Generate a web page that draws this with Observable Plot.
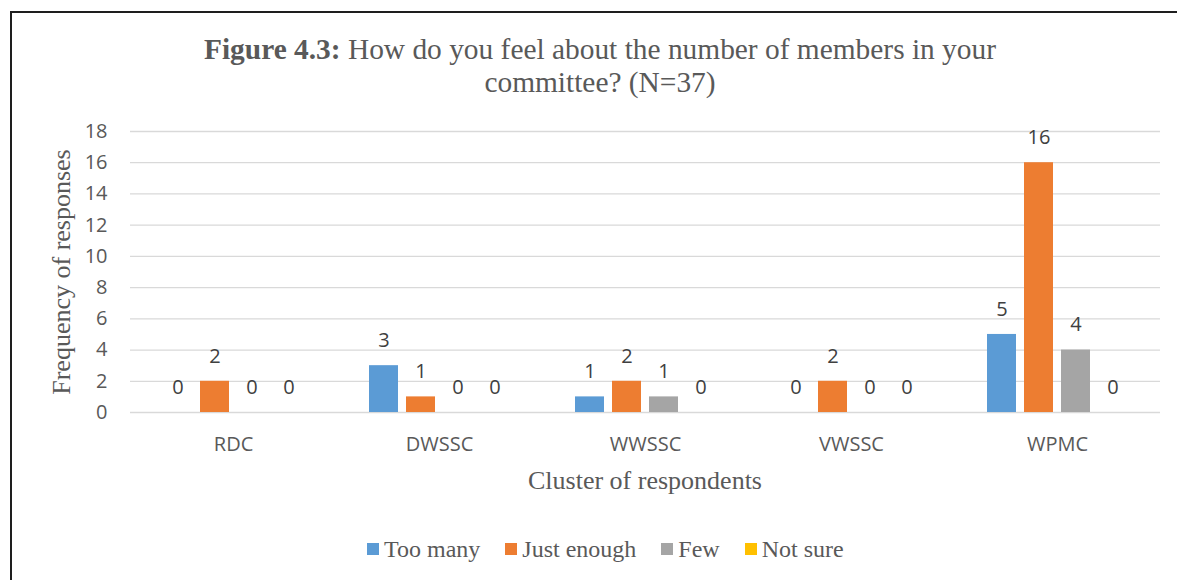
<!DOCTYPE html>
<html>
<head>
<meta charset="utf-8">
<script src="https://cdn.jsdelivr.net/npm/d3@7"></script>
<script src="https://cdn.jsdelivr.net/npm/@observablehq/plot@0.6"></script>
<style>
  html, body { margin: 0; padding: 0; background: #fff; overflow: hidden; }
  #page { position: relative; width: 1177px; height: 580px; overflow: hidden; }
  .serif { font-family: "Liberation Serif", "Times New Roman", serif; color: #595959; }
  #border { position: absolute; left: 10px; top: 11px; width: 1200px; height: 600px;
            border-top: 2px solid #1e1e1e; border-left: 2px solid #1e1e1e; }
  #title { position: absolute; left: 100px; width: 1000px; top: 33px; text-align: center;
           font-size: 29.4px; line-height: 33px; }
  #chart { position: absolute; left: 0; top: 100px; }
  #ylabel { position: absolute; left: 62px; top: 272px; white-space: nowrap; font-size: 26px; line-height: 26px;
            transform: translate(-50%, -50%) rotate(-90deg); }
  #xlabel { position: absolute; left: 445px; width: 400px; top: 468px; text-align: center;
            font-size: 26px; line-height: 26px; }
  #legend { position: absolute; left: 367px; top: 537px; display: flex; align-items: center;
            font-size: 24px; line-height: 24px; white-space: nowrap; }
  .item { display: flex; align-items: center; margin-right: 25px; }
  .sw { width: 12px; height: 12px; margin-right: 5px; }
</style>
</head>
<body>
<div id="page">
  <div id="border"></div>
  <div id="title" class="serif"><b>Figure 4.3:</b> How do you feel about the number of members in your<br>committee? (N=37)</div>
  <div id="chart"></div>
  <div id="ylabel" class="serif">Frequency of responses</div>
  <div id="xlabel" class="serif">Cluster of respondents</div>
  <div id="legend" class="serif"></div>
</div>
<script>
const categories = ["RDC", "DWSSC", "WWSSC", "VWSSC", "WPMC"];
const series = ["Too many", "Just enough", "Few", "Not sure"];
const tooMany = [0, 3, 1, 0, 5];
const justEnough = [2, 1, 2, 2, 16];
const few = [0, 0, 1, 0, 4];
const notSure = [0, 0, 0, 0, 0];
const colors = ["#5B9BD5", "#ED7D31", "#A5A5A5", "#FFC000"];
const yTicks = [0, 2, 4, 6, 8, 10, 12, 14, 16, 18];

const seriesValues = [tooMany, justEnough, few, notSure];
const data = categories.flatMap((c, i) =>
  series.map((s, j) => ({cat: c, series: s, value: seriesValues[j][i]})));

const chart = Plot.plot({
  width: 1177,
  height: 420,
  marginLeft: 130,
  marginRight: 17,
  marginTop: 31,
  marginBottom: 108,
  style: {fontFamily: "'Open Sans', sans-serif", fontSize: "20px", color: "#595959", background: "transparent"},
  fx: {domain: categories, padding: 0, label: null, axis: "bottom", tickSize: 0, tickPadding: 24},
  x: {domain: series, paddingInner: 0.227, paddingOuter: 0.86, axis: null},
  y: {domain: [0, 18], ticks: yTicks, tickSize: 0, tickPadding: 23, label: null},
  color: {domain: series, range: colors},
  marks: [
    Plot.ruleY(yTicks, {stroke: "#D9D9D9", strokeWidth: 1.3}),
    Plot.barY(data, {fx: "cat", x: "series", y: "value", fill: "series"}),
    Plot.text(data, {fx: "cat", x: "series", y: "value", text: d => String(d.value), dy: -25, fill: "#404040", fontSize: 20})
  ]
});
document.getElementById("chart").appendChild(chart);

const legend = document.getElementById("legend");
series.forEach((s, i) => {
  const item = document.createElement("div");
  item.className = "item";
  const sw = document.createElement("span");
  sw.className = "sw";
  sw.style.background = colors[i];
  const lab = document.createElement("span");
  lab.textContent = s;
  item.appendChild(sw);
  item.appendChild(lab);
  legend.appendChild(item);
});
</script>
</body>
</html>
